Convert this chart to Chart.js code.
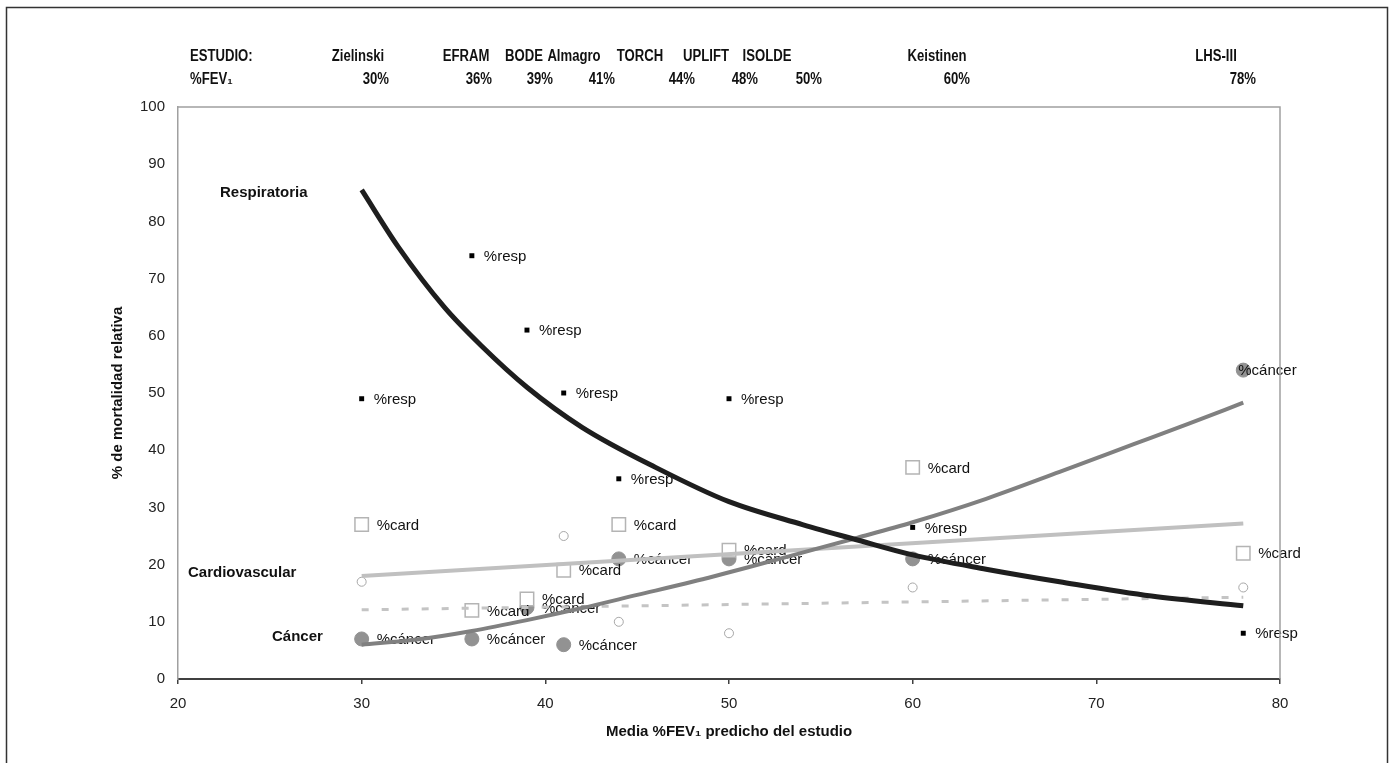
<!DOCTYPE html>
<html lang="es">
<head>
<meta charset="UTF-8">
<title>Mortalidad relativa según %FEV1</title>
<script src="https://cdn.jsdelivr.net/npm/chart.js"></script>
<style>
  html, body { margin: 0; padding: 0; background: #fff; }
  canvas { display: block; }
</style>
</head>
<body>
<canvas id="grafico" width="1393" height="763"></canvas>
<script>
// datos
var estudios = ['Zielinski', 'EFRAM', 'BODE', 'Almagro', 'TORCH', 'UPLIFT', 'ISOLDE', 'Keistinen', 'LHS-III'];
var fevEstudios = ['30%', '36%', '39%', '41%', '44%', '48%', '50%', '60%', '78%'];

var fevX = [30, 36, 39, 41, 44, 50, 60, 78];
var pctResp = [49, 74, 61, 50, 35, 49, 26.5, 8];
var pctCard = [27, 12, 14, 19, 27, 22.5, 37, 22];
var pctCancer = [7, 7, 12.5, 6, 21, 21, 21, 54];
var pctOtros = [17, 7, 13, 25, 10, 8, 16, 16];

// lineas de tendencia
var tendRespX = [30, 32, 34.5, 36.5, 39, 42, 46, 50, 54, 57, 60, 64, 68, 73, 78];
var tendRespY = [85.5, 75.5, 65, 58.3, 51, 44, 37, 31, 27, 24.3, 21.7, 19.2, 17, 14.5, 12.8];
var tendCancerX = [30, 33, 36, 39, 42, 45, 48, 51, 54, 57, 60, 64, 68, 72, 75, 78];
var tendCancerY = [6, 6.9, 8.4, 10.3, 12.4, 14.7, 17, 19.5, 22.1, 24.7, 27.4, 31.5, 36.2, 41, 44.6, 48.3];
var tendCardX = [30, 78];
var tendCardY = [18, 27.2];
var tendOtrosX = [30, 78];
var tendOtrosY = [12.1, 14.3];

var ticksX = [20, 30, 40, 50, 60, 70, 80];
var ticksY = [0, 10, 20, 30, 40, 50, 60, 70, 80, 90, 100];

function puntos(xs, ys) {
  var res = [];
  for (var i = 0; i < xs.length; i++) {
    res.push({ x: xs[i], y: ys[i] });
  }
  return res;
}

var fuente = '"Liberation Sans", Arial, sans-serif';

// etiquetas "%resp", "%card"... junto a cada punto, dibujadas justo despues de su serie
var etiquetasPuntos = {
  id: 'etiquetasPuntos',
  afterDatasetDraw: function (chart, args) {
    var ds = chart.data.datasets[args.index];
    if (!ds.etiqueta) return;
    var ctx = chart.ctx;
    ctx.save();
    ctx.font = '15px ' + fuente;
    ctx.fillStyle = '#111';
    ctx.textBaseline = 'middle';
    ctx.textAlign = 'left';
    var pts = args.meta.data;
    pts.forEach(function (pt, j) {
      var dx = ds.desplEtiqueta;
      if (ds.etiqueta === '%cáncer' && j === pts.length - 1) dx = -5;
      ctx.fillText(ds.etiqueta, pt.x + dx, pt.y + 1);
    });
    ctx.restore();
  }
};

// texto estrecho (la cabecera original usa una letra condensada)
function textoEstrecho(ctx, txt, x, y, align) {
  ctx.save();
  ctx.translate(x, y);
  ctx.scale(0.82, 1);
  ctx.textAlign = align;
  ctx.fillText(txt, 0, 0);
  ctx.restore();
}

// cabecera, marco y rotulos de cada curva
var xNombres = [358, 466, 524, 574, 640, 706, 767, 937, 1216];
var xFev = [389, 492, 553, 615, 695, 758, 822, 970, 1256];

var textosFijos = {
  id: 'textosFijos',
  beforeDraw: function (chart) {
    var ctx = chart.ctx;
    ctx.save();
    ctx.fillStyle = '#fff';
    ctx.fillRect(0, 0, chart.width, chart.height);
    ctx.strokeStyle = '#333';
    ctx.lineWidth = 1.5;
    ctx.strokeRect(6.5, 7.5, 1381, 800);
    ctx.restore();
  },
  afterDraw: function (chart) {
    var ctx = chart.ctx;
    var a = chart.chartArea;
    ctx.save();
    // borde superior y derecho del area de trazado
    ctx.strokeStyle = '#a0a0a0';
    ctx.lineWidth = 1.5;
    ctx.beginPath();
    ctx.moveTo(a.left, a.top);
    ctx.lineTo(a.right, a.top);
    ctx.lineTo(a.right, a.bottom);
    ctx.stroke();

    ctx.fillStyle = '#111';
    ctx.font = 'bold 16px ' + fuente;
    ctx.textBaseline = 'middle';
    textoEstrecho(ctx, 'ESTUDIO:', 190, 57, 'left');
    textoEstrecho(ctx, '%FEV\u2081', 190, 80, 'left');
    for (var i = 0; i < estudios.length; i++) {
      textoEstrecho(ctx, estudios[i], xNombres[i], 57, 'center');
    }
    for (var k = 0; k < fevEstudios.length; k++) {
      textoEstrecho(ctx, fevEstudios[k], xFev[k], 80, 'right');
    }

    ctx.font = 'bold 15px ' + fuente;
    ctx.textAlign = 'left';
    ctx.fillText('Respiratoria', 220, 193);
    ctx.fillText('Cardiovascular', 188, 573);
    ctx.fillText('Cáncer', 272, 637);
    ctx.restore();
  }
};

var datos = {
  datasets: [
    {
      label: 'tend resp',
      data: puntos(tendRespX, tendRespY),
      showLine: true,
      borderColor: '#1e1e1e',
      borderWidth: 5,
      pointRadius: 0,
      cubicInterpolationMode: 'monotone',
      order: 0
    },
    {
      label: 'tend cáncer',
      data: puntos(tendCancerX, tendCancerY),
      showLine: true,
      borderColor: '#808080',
      borderWidth: 4,
      pointRadius: 0,
      cubicInterpolationMode: 'monotone',
      order: 1
    },
    {
      label: 'tend card',
      data: puntos(tendCardX, tendCardY),
      showLine: true,
      borderColor: '#c0c0c0',
      borderWidth: 4,
      pointRadius: 0,
      order: 2
    },
    {
      label: 'tend otros',
      data: puntos(tendOtrosX, tendOtrosY),
      showLine: true,
      borderColor: '#c4c4c4',
      borderWidth: 3,
      borderDash: [7, 13],
      pointRadius: 0,
      order: 3
    },
    {
      label: '%resp',
      etiqueta: '%resp',
      desplEtiqueta: 12,
      data: puntos(fevX, pctResp),
      pointStyle: 'rect',
      pointRadius: 3.5,
      backgroundColor: '#000',
      borderColor: '#000',
      borderWidth: 0,
      order: 4
    },
    {
      label: '%card',
      etiqueta: '%card',
      desplEtiqueta: 15,
      data: puntos(fevX, pctCard),
      pointStyle: 'rect',
      pointRadius: 9.5,
      backgroundColor: '#fff',
      borderColor: '#b4b4b4',
      borderWidth: 1.5,
      order: 5
    },
    {
      label: '%cáncer',
      etiqueta: '%cáncer',
      desplEtiqueta: 15,
      data: puntos(fevX, pctCancer),
      pointStyle: 'circle',
      pointRadius: 7,
      backgroundColor: '#929292',
      borderColor: '#929292',
      borderWidth: 1,
      order: 6
    },
    {
      label: '%otros',
      data: puntos(fevX, pctOtros),
      pointStyle: 'circle',
      pointRadius: 4.5,
      backgroundColor: '#fff',
      borderColor: '#a8a8a8',
      borderWidth: 1,
      order: 7
    }
  ]
};

var config = {
  type: 'scatter',
  data: datos,
  options: {
    responsive: false,
    animation: false,
    layout: { padding: { top: 107, right: 113, left: 0, bottom: 0 } },
    plugins: {
      legend: { display: false },
      tooltip: { enabled: false }
    },
    scales: {
      x: {
        type: 'linear',
        min: 20,
        max: 80,
        afterFit: function (scale) { scale.height = 84; },
        afterBuildTicks: function (scale) {
          scale.ticks = ticksX.map(function (v) { return { value: v }; });
        },
        border: { display: true, color: '#404040', width: 2 },
        grid: { display: true, drawOnChartArea: false, drawTicks: true, tickLength: 5, color: '#404040', lineWidth: 1.5 },
        ticks: { color: '#222', padding: 11, font: { family: fuente, size: 15 } },
        title: {
          display: true,
          text: 'Media %FEV\u2081 predicho del estudio',
          color: '#111',
          font: { family: fuente, size: 15, weight: 'bold' },
          padding: { top: 0, bottom: 22 }
        }
      },
      y: {
        type: 'linear',
        min: 0,
        max: 100,
        afterFit: function (scale) { scale.width = 178; },
        afterBuildTicks: function (scale) {
          scale.ticks = ticksY.map(function (v) { return { value: v }; });
        },
        border: { display: true, color: '#a0a0a0', width: 1.5 },
        grid: { display: false, drawTicks: false },
        ticks: { color: '#222', padding: 13, font: { family: fuente, size: 15 } },
        title: {
          display: true,
          text: '% de mortalidad relativa',
          color: '#111',
          font: { family: fuente, size: 15, weight: 'bold' },
          padding: { top: 109, bottom: 0 }
        }
      }
    }
  },
  plugins: [etiquetasPuntos, textosFijos]
};

var grafico = new Chart(document.getElementById('grafico'), config);
</script>
</body>
</html>
